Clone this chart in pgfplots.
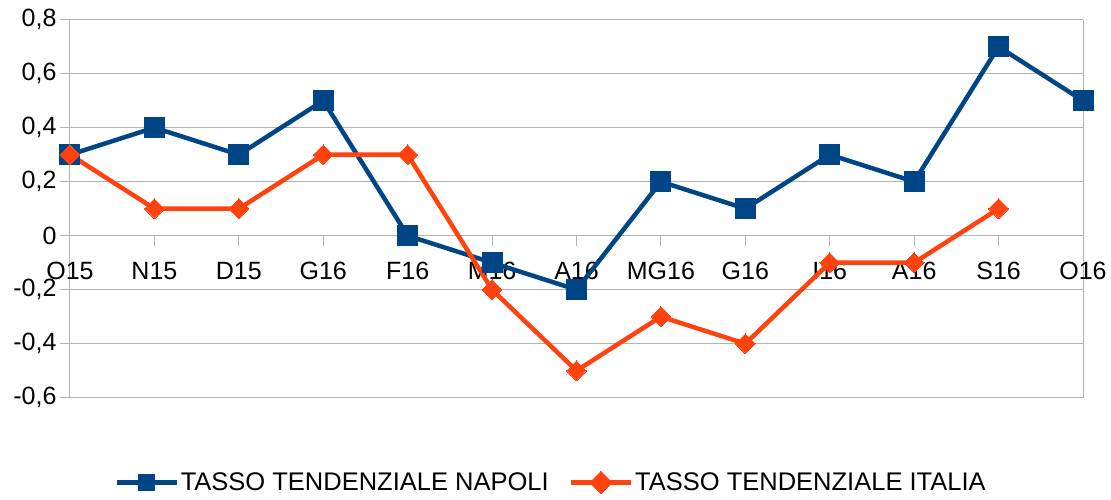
\documentclass[border=0pt]{standalone}
\usepackage{fontspec}
\setmainfont{Liberation Sans}
\usepackage{pgfplots}
\pgfplotsset{compat=1.18}
\definecolor{napoli}{HTML}{004586}
\definecolor{italia}{HTML}{FF420E}
\definecolor{gridc}{HTML}{B3B3B3}
\begin{document}
\begin{tikzpicture}
\useasboundingbox (-70pt,-102.3pt) rectangle (1041pt,397.7pt);
\begin{axis}[
  scale only axis,
  width=1013pt, height=378pt,
  anchor=south west, at={(0,0)},
  xmin=0, xmax=12, ymin=-0.6, ymax=0.8,
  axis x line*=middle,
  axis y line*=box,
  hide obscured x ticks=false,
  axis line style={gridc, line width=1pt},
  xtick=data,
  xticklabels={O15,N15,D15,G16,F16,M16,A16,MG16,G16,I16,A16,S16,O16},
  ytick={-0.6,-0.4,...,0.8},
  ytick pos=left,
  ymajorgrids,
  grid style={gridc, line width=1pt},
  tick style={gridc, line width=1pt},
  major tick length=10pt,
  tick align=outside,
  clip=false,
  tick label style={font=\fontsize{25}{30}\selectfont, text=black},
  xticklabel style={yshift=-13pt},
  /pgf/number format/assume math mode=true,
  yticklabel style={/pgf/number format/.cd, fixed, precision=1, use comma},
  legend style={at={(0.4748,-0.2243)}, anchor=center, draw=none, fill=none,
    font=\fontsize{25.5}{30}\selectfont, legend columns=2,
    /tikz/every even column/.append style={column sep=18pt}},
  legend image code/.code={%
    \draw[mark repeat=2,mark phase=2, mark size=8pt] plot coordinates {(0pt,0pt) (30pt,0pt) (60pt,0pt)};},
]
\addplot[napoli, line width=4.5pt, mark=square*, mark size=10pt, mark options={solid, line width=0pt}]
  coordinates {(0,0.3) (1,0.4) (2,0.3) (3,0.5) (4,0) (5,-0.1) (6,-0.2) (7,0.2) (8,0.1) (9,0.3) (10,0.2) (11,0.7) (12,0.5)};
\addlegendentry{TASSO TENDENZIALE NAPOLI}
\addplot[italia, line width=4.5pt, mark=square*, mark size=7pt, mark options={solid, rotate=45, line width=0pt}]
  coordinates {(0,0.3) (1,0.1) (2,0.1) (3,0.3) (4,0.3) (5,-0.2) (6,-0.5) (7,-0.3) (8,-0.4) (9,-0.1) (10,-0.1) (11,0.1)};
\addlegendentry{TASSO TENDENZIALE ITALIA}
\end{axis}
\end{tikzpicture}
\end{document}
